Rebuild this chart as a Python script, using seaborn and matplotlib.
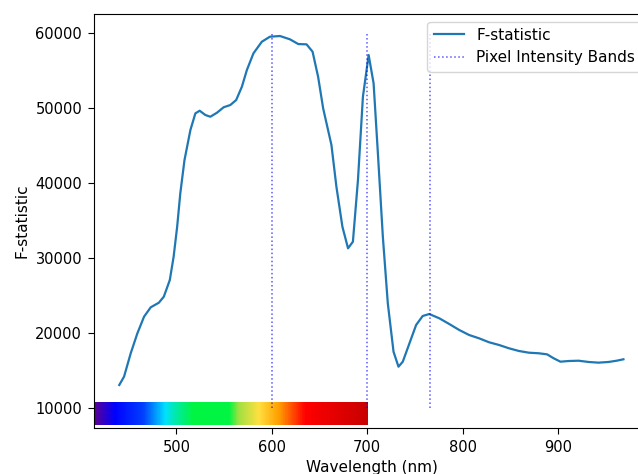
import matplotlib
matplotlib.use("Agg")
import matplotlib.pyplot as plt
import numpy as np
import pandas as pd
import seaborn as sns
from matplotlib.colors import LinearSegmentedColormap

# F-statistic per wavelength
wavelength = [440, 445, 452, 459, 466, 473, 481.5, 486.7, 493, 497, 500.7, 504, 508.4,
              514.6, 519.8, 524.3, 530.3, 535.5, 542.5, 549.4, 556.4, 562.6, 568.6, 573.8,
              580.7, 589.5, 598, 608.6, 619, 627.7, 636.4, 642.7, 648.5, 653.8, 662.5,
              667.7, 674, 679.9, 685, 690.3, 695.5, 701.5, 706.7, 711.2, 716.4, 721.6,
              727.6, 732.8, 737.3, 744.3, 751.3, 758.2, 765.1, 775.6, 786, 796.5, 806.9,
              817.3, 827.8, 838.2, 848.6, 859, 869.5, 880, 888.6, 895.6, 902.6, 911.3,
              921.7, 932.2, 942.6, 953, 961.6, 968.7]
fstat = [13070, 14180, 17300, 19970, 22190, 23440, 24050, 24850, 27080, 30190, 34190,
         38650, 43090, 47100, 49320, 49670, 49100, 48870, 49410, 50130, 50430, 51100,
         52880, 55100, 57330, 58880, 59550, 59640, 59200, 58570, 58530, 57550, 54210,
         49990, 45090, 39530, 34190, 31310, 32190, 40420, 51540, 57100, 53330, 43990,
         32860, 23970, 17510, 15510, 16180, 18630, 21080, 22280, 22540, 21970, 21210,
         20410, 19740, 19300, 18770, 18410, 17970, 17610, 17380, 17300, 17160, 16630,
         16180, 16270, 16310, 16140, 16050, 16140, 16310, 16500]

# selected bands
bands = [600, 700, 766]
band_low = 10000
band_high = 60000

df = pd.DataFrame({"Wavelength": wavelength, "F": fstat})

fig = plt.figure(figsize=(6.38, 4.74), dpi=100)
# axes runs past the right edge, like the cropped original
ax = fig.add_axes([94 / 638, (474 - 427.7) / 474, 555 / 638, 413.7 / 474])

sns.lineplot(data=df, x="Wavelength", y="F", ax=ax, color="#1f77b4",
             linewidth=1.6, label="F-statistic")
ax.vlines(bands, band_low, band_high, colors="blue", linestyles=":",
          linewidth=1.1, alpha=0.65, label="Pixel Intensity Bands")

x0, x1 = 413.5, 995.5
y0, y1 = 7370, 62580

# visible spectrum strip
spec_nodes = [414, 435, 465, 488, 500, 517, 555, 565, 586, 607, 635, 700]
spec_cols = ["#5a0096", "#0000ff", "#0040ff", "#00e0ff", "#00eba0", "#00f542",
             "#00f542", "#a0e040", "#ffe040", "#ffa000", "#ff0000", "#c80000"]
pos = [(n - spec_nodes[0]) / (spec_nodes[-1] - spec_nodes[0]) for n in spec_nodes]
cmap = LinearSegmentedColormap.from_list("spectrum", list(zip(pos, spec_cols)))
grad = np.linspace(0, 1, 400)[None, :]
ax.imshow(grad, cmap=cmap, aspect="auto", extent=[x0, 700, 7690, 10700], zorder=1)

ax.set_xlim(x0, x1)
ax.set_ylim(y0, y1)
ax.set_xticks([500, 600, 700, 800, 900])
ax.set_yticks([10000, 20000, 30000, 40000, 50000, 60000])
ax.tick_params(labelsize=10.5, length=4, pad=4.5)
ax.set_xlabel("Wavelength (nm)", fontsize=11)
ax.set_ylabel("F-statistic", fontsize=11)
ax.legend(loc="upper right", fontsize=11)

fig.savefig("out.png", dpi=100)
